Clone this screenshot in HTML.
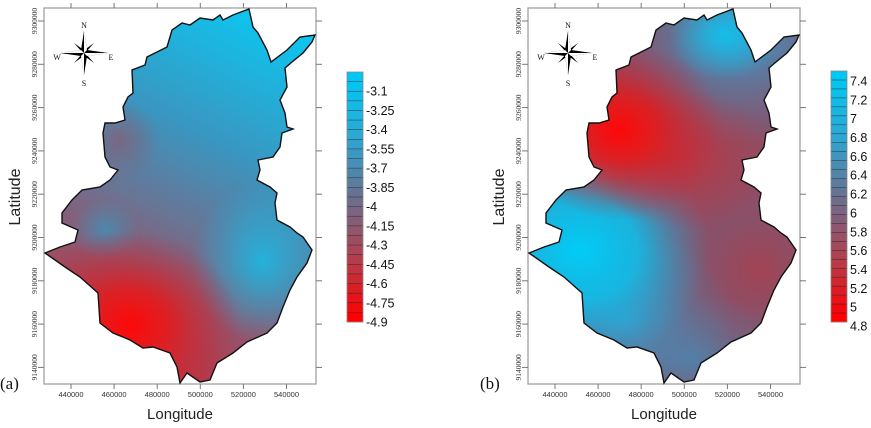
<!DOCTYPE html>
<html><head><meta charset="utf-8"><style>
html,body{margin:0;padding:0;background:#fff;width:871px;height:428px;overflow:hidden}
svg{display:block;overflow:hidden}
text{font-family:"Liberation Sans",sans-serif}
.tk{font-size:7.5px;fill:#333}
.ser{font-family:"Liberation Serif",serif}
</style></head><body>
<svg id="fig" width="871" height="428" viewBox="0 0 871 428">
<defs>
<clipPath id="mapclip"><polygon id="outlinePts" points="249,9 253,27 258,33 267,50 271,62 287,50 300,37 315,35 312,42 303,53 292,62 285,68 287,87 280,100 285,113 287,127 293,129 282,133 280,147 273,157 258,160 260,170 257,180 270,187 277,193 275,203 277,220 290,227 297,233 303,237 312,250 307,263 297,277 290,290 283,307 277,323 267,333 247,342 233,353 217,363 210,380 200,382 187,373 180,383 177,367 170,353 153,347 143,348 130,340 113,333 100,323 98,293 80,277 65,267 45,253 60,247 75,242 78,230 62,223 62,213 72,200 82,190 100,187 110,180 118,170 110,167 105,157 103,133 105,123 115,123 125,120 123,107 128,97 133,93 132,70 145,65 147,57 167,47 172,30 182,23 190,25 200,18 213,20 220,15 223,20 233,15"/></clipPath>
<linearGradient id="baseA" gradientUnits="userSpaceOnUse" x1="275" y1="20" x2="110" y2="340">
<stop offset="0" stop-color="#0cc6f0"/><stop offset="0.38" stop-color="#3a96c0"/><stop offset="0.62" stop-color="#6a7494"/><stop offset="1" stop-color="#b83848"/></linearGradient>
<radialGradient id="gRed"><stop offset="0" stop-color="#ff0808" stop-opacity="1"/><stop offset="0.35" stop-color="#e81818" stop-opacity="0.85"/><stop offset="1" stop-color="#c02838" stop-opacity="0"/></radialGradient>
<radialGradient id="gPur"><stop offset="0" stop-color="#8a5a72" stop-opacity="0.7"/><stop offset="1" stop-color="#8a5a72" stop-opacity="0"/></radialGradient>
<radialGradient id="gBlu"><stop offset="0" stop-color="#3898c0" stop-opacity="0.7"/><stop offset="1" stop-color="#3898c0" stop-opacity="0"/></radialGradient>
<radialGradient id="gCy"><stop offset="0" stop-color="#12c0ec" stop-opacity="0.8"/><stop offset="1" stop-color="#12c0ec" stop-opacity="0"/></radialGradient>
<radialGradient id="gCyB"><stop offset="0" stop-color="#12c0ec" stop-opacity="0.95"/><stop offset="1" stop-color="#12c0ec" stop-opacity="0"/></radialGradient>
<radialGradient id="gCy2"><stop offset="0" stop-color="#00ccf6" stop-opacity="1"/><stop offset="0.45" stop-color="#10bce8" stop-opacity="0.9"/><stop offset="1" stop-color="#2aa0d0" stop-opacity="0"/></radialGradient>
<radialGradient id="gSteel"><stop offset="0" stop-color="#3a9ccc" stop-opacity="0.95"/><stop offset="1" stop-color="#4a86b0" stop-opacity="0"/></radialGradient>
<radialGradient id="gRed2"><stop offset="0" stop-color="#c03440" stop-opacity="0.85"/><stop offset="1" stop-color="#c03440" stop-opacity="0"/></radialGradient>
<radialGradient id="gRed3"><stop offset="0" stop-color="#a84050" stop-opacity="0.8"/><stop offset="1" stop-color="#a84050" stop-opacity="0"/></radialGradient>
<radialGradient id="gSlate"><stop offset="0" stop-color="#4a86b0" stop-opacity="0.8"/><stop offset="1" stop-color="#5a7aa0" stop-opacity="0"/></radialGradient>
</defs>

<g id="panelA">
  <rect x="44" y="8" width="272" height="376" fill="none" stroke="#999" stroke-width="1.2"/>
  <g clip-path="url(#mapclip)">
    <rect x="40" y="0" width="280" height="390" fill="url(#baseA)"/>
    <ellipse cx="120" cy="140" rx="40" ry="40" fill="url(#gPur)"/>
    <ellipse cx="105" cy="230" rx="35" ry="30" fill="url(#gBlu)"/>
    <ellipse cx="262" cy="262" rx="70" ry="80" fill="url(#gCy)"/>
    <ellipse cx="130" cy="325" rx="110" ry="95" fill="url(#gRed)"/>
  </g>
  <use href="#outlinePts" fill="none" stroke="#111" stroke-width="1.4"/>
  <g class="axes"></g>
</g>

<g id="panelB" transform="translate(484,0)">
  <rect x="44" y="8" width="272" height="376" fill="none" stroke="#999" stroke-width="1.2"/>
  <g clip-path="url(#mapclip)">
    <rect x="40" y="0" width="280" height="390" fill="#8a5068"/>
    <ellipse cx="255" cy="35" rx="130" ry="110" fill="url(#gSteel)"/>
    <ellipse cx="240" cy="35" rx="55" ry="45" fill="url(#gCyB)"/>
    <ellipse cx="210" cy="360" rx="100" ry="65" fill="url(#gSlate)"/>
    <ellipse cx="140" cy="320" rx="110" ry="90" fill="url(#gSteel)"/>
    <ellipse cx="96" cy="250" rx="130" ry="115" fill="url(#gCy2)"/>
    <ellipse cx="200" cy="160" rx="95" ry="70" fill="url(#gRed2)"/>
    <ellipse cx="135" cy="130" rx="105" ry="90" fill="url(#gRed)"/>
    <ellipse cx="275" cy="270" rx="50" ry="50" fill="url(#gRed3)"/>
  </g>
  <use href="#outlinePts" fill="none" stroke="#111" stroke-width="1.4"/>
  <g class="axes"></g>
</g>

<text x="0" y="389" class="ser" font-size="17" fill="#111">(a)</text>
<text x="480" y="389" class="ser" font-size="17" fill="#111">(b)</text>
</svg>
<script>
const xTickLabels = ["440000","460000","480000","500000","520000","540000"];
const xTickValues = [440000,460000,480000,500000,520000,540000];
const yTickLabels = ["9300000","9280000","9260000","9240000","9220000","9200000","9180000","9160000","9140000"];
const yTickValues = [9300000,9280000,9260000,9240000,9220000,9200000,9180000,9160000,9140000];
const legendA = [-3.1,-3.25,-3.4,-3.55,-3.7,-3.85,-4,-4.15,-4.3,-4.45,-4.6,-4.75,-4.9];
const legendB = [7.4,7.2,7,6.8,6.6,6.4,6.2,6,5.8,5.6,5.4,5.2,5,4.8];

const NS = "http://www.w3.org/2000/svg";
function mk(tag, attrs, parent){const e=document.createElementNS(NS,tag);for(const k in attrs)e.setAttribute(k,attrs[k]);parent.appendChild(e);return e;}
function xScale(v){return 71 + (v-440000)/20000*43.1;}
function yScale(v){return 21 + (9300000-v)/20000*43.3;}

function lerp(a,b,t){return a+(b-a)*t;}
function colorAt(t){
  const stops=[[0,[0,200,244]],[0.25,[44,168,212]],[0.5,[106,112,144]],[0.75,[176,64,80]],[1,[255,0,0]]];
  for(let i=0;i<stops.length-1;i++){const a=stops[i],b=stops[i+1];if(t<=b[0]){const u=(t-a[0])/(b[0]-a[0]);return "rgb("+a[1].map((c,j)=>Math.round(lerp(c,b[1][j],u))).join(",")+")";}}
  return "rgb(255,0,0)";
}

function drawAxes(g){
  for(let i=0;i<xTickValues.length;i++){
    const x=xScale(xTickValues[i]);
    const t=mk('line',{x1:x,y1:384,x2:x,y2:389,stroke:'#777','stroke-width':1},g);
    
    
    const t2=mk('line',{x1:x,y1:3,x2:x,y2:8,stroke:'#777','stroke-width':1},g);
    
    
    const lb=mk('text',{x:x,y:397,'text-anchor':'middle',class:'tk'},g);
    lb.textContent=xTickLabels[i];
    
    
  }
  for(let i=0;i<yTickValues.length;i++){
    const y=yScale(yTickValues[i]);
    const t=mk('line',{x1:38,y1:y,x2:44,y2:y,stroke:'#777','stroke-width':1},g);
    
    
    const t2=mk('line',{x1:316,y1:y,x2:322,y2:y,stroke:'#777','stroke-width':1},g);
    
    
    const lb=mk('text',{x:0,y:0,'text-anchor':'middle',class:'tk ser',transform:'translate(37,'+y+') rotate(-90)'},g);
    lb.textContent=yTickLabels[i];
    
    
  }
  const xt=mk('text',{x:180,y:419,'text-anchor':'middle','font-size':15,fill:'#222'},g);
  xt.textContent='Longitude';
  
  
  const yt=mk('text',{x:0,y:0,'text-anchor':'middle','font-size':16,fill:'#222',transform:'translate(20,197) rotate(-90)'},g);
  yt.textContent='Latitude';
  
  
  const c=mk('g',{transform:'translate(84,53)'},g);
  
  
  mk('polygon',{points:'0,-22 3,-3 0,0 -3,-3',fill:'#000'},c);
  mk('polygon',{points:'0,22 3,3 0,0 -3,3',fill:'#000'},c);
  mk('polygon',{points:'-24,0 -3,-3 0,0 -3,3',fill:'#000'},c);
  mk('polygon',{points:'24,0 3,3 0,0 3,-3',fill:'#000'},c);
  mk('polygon',{points:'10,-10 2,-1 0,0 -1,-2',fill:'#000'},c);
  mk('polygon',{points:'-10,-10 -2,-1 0,0 1,-2',fill:'#000'},c);
  mk('polygon',{points:'10,10 2,1 0,0 -1,2',fill:'#000'},c);
  mk('polygon',{points:'-10,10 -2,1 0,0 1,2',fill:'#000'},c);
  mk('polygon',{points:'0,-22 0,0 3,-3',fill:'#fff'},c);
  mk('polygon',{points:'0,22 0,0 -3,3',fill:'#fff'},c);
  mk('polygon',{points:'-24,0 0,0 -3,-3',fill:'#fff'},c);
  mk('polygon',{points:'24,0 0,0 3,3',fill:'#fff'},c);
  [['N',0,-25],['S',0,33],['W',-27,7],['E',27,7]].forEach(d=>{
    const tx=mk('text',{x:d[1],y:d[2],'text-anchor':'middle','font-size':8,class:'ser',fill:'#111'},c);
    tx.textContent=d[0];
    
    
  });
}

function drawLegend(g, vals, top, bottom, labelTop, labelBottom){
  const lg=mk('g',{},g);
  
  
  const x=347,w=16;
  const n=(vals.length-1)*2+2;
  const bh=(bottom-top)/n;
  for(let i=0;i<n;i++){
    const r=mk('rect',{x:x,y:top+i*bh,width:w,height:bh+0.3,fill:colorAt(i/(n-1))},lg);
    
    
    if(i>0){const l=mk('line',{x1:x,y1:top+i*bh,x2:x+w,y2:top+i*bh,stroke:'#222','stroke-width':0.6,'stroke-opacity':0.7},lg);
      
      }
  }
  mk('rect',{x:x,y:top,width:w,height:bottom-top,fill:'none',stroke:'#888','stroke-width':0.8},lg);
  const step=(labelBottom-labelTop)/(vals.length-1);
  vals.forEach((v,i)=>{
    const t=mk('text',{x:x+19,y:labelTop+i*step+4.5,'font-size':12.5,fill:'#111'},lg);
    t.textContent=String(v);
    
    
  });
}

const gA=document.querySelector('#panelA .axes');
const gB=document.querySelector('#panelB .axes');
drawAxes(gA); drawAxes(gB);
drawLegend(gA, legendA, 72, 322, 91, 322);
drawLegend(gB, legendB, 71, 322, 81, 326);
</script>
</body></html>
